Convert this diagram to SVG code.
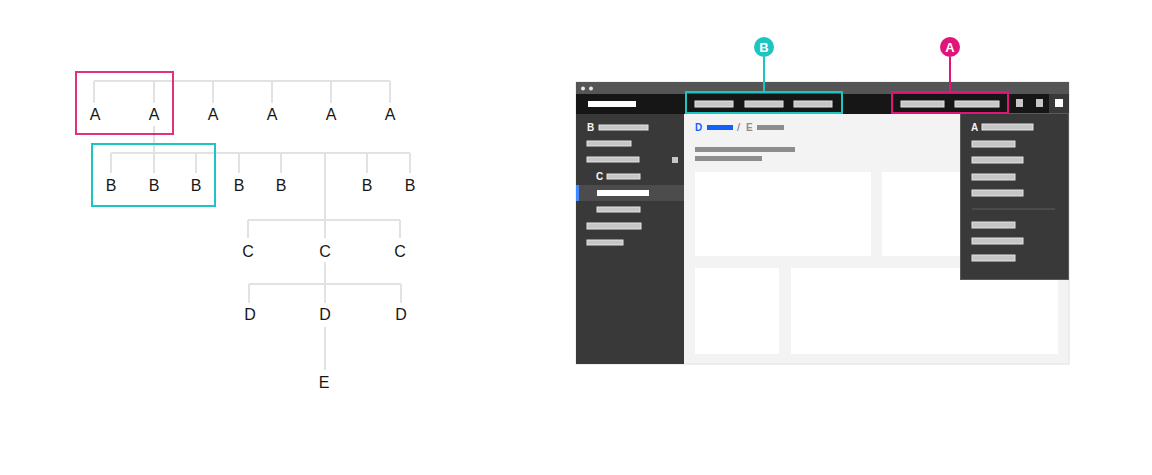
<svg xmlns="http://www.w3.org/2000/svg" width="1152" height="475" viewBox="0 0 1152 475">
<style>
.t{font-family:"Liberation Sans","DejaVu Sans",sans-serif;font-size:16px;fill:#161616;text-anchor:middle}
.ln{stroke:#e2e2e2;stroke-width:2;fill:none}
.bar{fill:#c6c6c6;stroke:#e4e4e4;stroke-width:1}
.dbar{fill:#8d8d8d}
.lbl{font-family:"Liberation Sans","DejaVu Sans",sans-serif;font-size:10px;font-weight:bold;fill:#f4f4f4}
.tile{fill:#ffffff}
.badge{font-family:"Liberation Sans","DejaVu Sans",sans-serif;font-size:13px;font-weight:bold;fill:#ffffff;text-anchor:middle}
</style>
<rect width="1152" height="475" fill="#ffffff"/>

<!-- tree connectors -->
<g id="connectors" class="ln">
<path d="M94 81 H390 M94 81 V103 M154 81 V103 M213 81 V103 M272 81 V103 M331 81 V103 M390 81 V103"/>
<path d="M154 126 V153"/>
<path d="M111 153 H410 M111 153 V173 M154 153 V173 M196 153 V173 M239 153 V173 M281 153 V173 M367 153 V173 M410 153 V173"/>
<path d="M325 153 V220"/>
<path d="M248 220 H400 M248 220 V238 M400 220 V238 M325 220 V238"/>
<path d="M325 262 V284 M249 284 H401 M249 284 V303 M401 284 V303 M325 284 V303"/>
<path d="M325 327 V370"/>
</g>

<g id="tree-nodes">
<g id="a-row">
<text class="t" x="95" y="120">A</text>
<text class="t" x="154" y="120">A</text>
<text class="t" x="213" y="120">A</text>
<text class="t" x="272" y="120">A</text>
<text class="t" x="331" y="120">A</text>
<text class="t" x="390" y="120">A</text>
</g>
<g id="b-row">
<text class="t" x="111" y="191">B</text>
<text class="t" x="154" y="191">B</text>
<text class="t" x="196" y="191">B</text>
<text class="t" x="239" y="191">B</text>
<text class="t" x="281" y="191">B</text>
<text class="t" x="367" y="191">B</text>
<text class="t" x="410" y="191">B</text>
</g>
<g id="c-row">
<text class="t" x="248" y="257">C</text>
<text class="t" x="325" y="257">C</text>
<text class="t" x="400" y="257">C</text>
</g>
<g id="d-row">
<text class="t" x="250" y="320">D</text>
<text class="t" x="325" y="320">D</text>
<text class="t" x="401" y="320">D</text>
</g>
<g id="e-node">
<text class="t" x="324" y="388">E</text>
</g>
<rect id="tree-highlight-a" x="76" y="72" width="97" height="62" fill="none" stroke="#e0307e" stroke-width="2"/>
<rect id="tree-highlight-b" x="92" y="144" width="123" height="62" fill="none" stroke="#1cc4c2" stroke-width="2"/>
</g>

<!-- UI window -->
<g id="window">
<rect x="576" y="82" width="493" height="282" fill="#f3f3f3" stroke="#e0e0e0" stroke-width="1"/>
<rect x="576" y="82" width="493" height="12" fill="#555555"/>
<circle cx="583" cy="88.5" r="2" fill="#e8e8e8"/>
<circle cx="591" cy="88.5" r="2" fill="#e8e8e8"/>
<rect x="576" y="94" width="493" height="20" fill="#161616"/>
<rect x="1049" y="94" width="20" height="20" fill="#393939"/>
<rect x="588" y="101" width="48" height="6" fill="#ffffff"/>
<rect class="bar" x="695" y="101" width="38" height="6"/>
<rect class="bar" x="745" y="101" width="38" height="6"/>
<rect class="bar" x="794" y="101" width="38" height="6"/>
<rect class="bar" x="901" y="101" width="43" height="6"/>
<rect class="bar" x="955" y="101" width="44" height="6"/>
<rect x="1016" y="99" width="7" height="8" fill="#c6c6c6"/>
<rect x="1036" y="99" width="7" height="8" fill="#c6c6c6"/>
<rect x="1055" y="99" width="8" height="8" fill="#ffffff"/>
</g>

<g id="sidebar">
<rect x="576" y="114" width="108" height="250" fill="#393939"/>
<text class="lbl" x="587" y="131">B</text>
<rect class="bar" x="599" y="125" width="49" height="5"/>
<rect class="bar" x="587" y="141" width="44" height="5"/>
<rect class="bar" x="587" y="157" width="52" height="5"/>
<rect x="672" y="157" width="6" height="6" fill="#c6c6c6"/>
<text class="lbl" x="596" y="180">C</text>
<rect class="bar" x="607" y="174" width="33" height="5"/>
<rect x="576" y="185" width="108" height="16" fill="#4c4c4c"/>
<rect x="576" y="185" width="3" height="16" fill="#4589ff"/>
<rect x="597" y="190" width="52" height="6" fill="#ffffff"/>
<rect class="bar" x="597" y="207" width="43" height="5"/>
<rect class="bar" x="587" y="223" width="54" height="6"/>
<rect class="bar" x="587" y="240" width="36" height="5"/>
</g>

<g id="content">
<text x="695" y="131" font-family="Liberation Sans, DejaVu Sans, sans-serif" font-size="10" font-weight="bold" fill="#0f62fe">D</text>
<rect x="707" y="125" width="26" height="5" fill="#0f62fe"/>
<text x="737" y="131" font-family="Liberation Sans, DejaVu Sans, sans-serif" font-size="11" fill="#6f6f6f">/</text>
<text x="746" y="131" font-family="Liberation Sans, DejaVu Sans, sans-serif" font-size="10" font-weight="bold" fill="#8d8d8d">E</text>
<rect class="dbar" x="757" y="125" width="27" height="5"/>
<rect class="dbar" x="695" y="147" width="100" height="5"/>
<rect class="dbar" x="695" y="156" width="67" height="5"/>
<rect class="tile" x="695" y="172" width="176" height="84"/>
<rect class="tile" x="882" y="172" width="176" height="84"/>
<rect class="tile" x="695" y="268" width="84" height="86"/>
<rect class="tile" x="791" y="268" width="267" height="86"/>
</g>

<g id="dropdown">
<rect x="960.5" y="113.5" width="108" height="166" fill="#393939" stroke="#5a5a5a" stroke-width="1"/>
<text class="lbl" x="971" y="131">A</text>
<rect class="bar" x="982" y="124" width="51" height="6"/>
<rect class="bar" x="972" y="141" width="43" height="6"/>
<rect class="bar" x="972" y="157" width="51" height="6"/>
<rect class="bar" x="972" y="174" width="43" height="6"/>
<rect class="bar" x="972" y="190" width="51" height="6"/>
<line x1="972" y1="209" x2="1055" y2="209" stroke="#5e5e5e" stroke-width="1"/>
<rect class="bar" x="972" y="222" width="43" height="6"/>
<rect class="bar" x="972" y="238" width="51" height="6"/>
<rect class="bar" x="972" y="255" width="43" height="6"/>
</g>

<g id="callout-b">
<rect x="686" y="92" width="156" height="21" fill="none" stroke="#1cc4c2" stroke-width="2"/>
<line x1="764" y1="57" x2="764" y2="92" stroke="#1cc4c2" stroke-width="2"/>
<circle cx="764" cy="47" r="10" fill="#1cc4c2"/>
<text class="badge" x="764" y="51.5">B</text>
</g>

<g id="callout-a">
<rect x="892" y="92" width="116" height="21" fill="none" stroke="#e0157a" stroke-width="2"/>
<line x1="950" y1="57" x2="950" y2="92" stroke="#e0157a" stroke-width="2"/>
<circle cx="950" cy="47" r="10" fill="#e0157a"/>
<text class="badge" x="950" y="51.5">A</text>
</g>
</svg>
